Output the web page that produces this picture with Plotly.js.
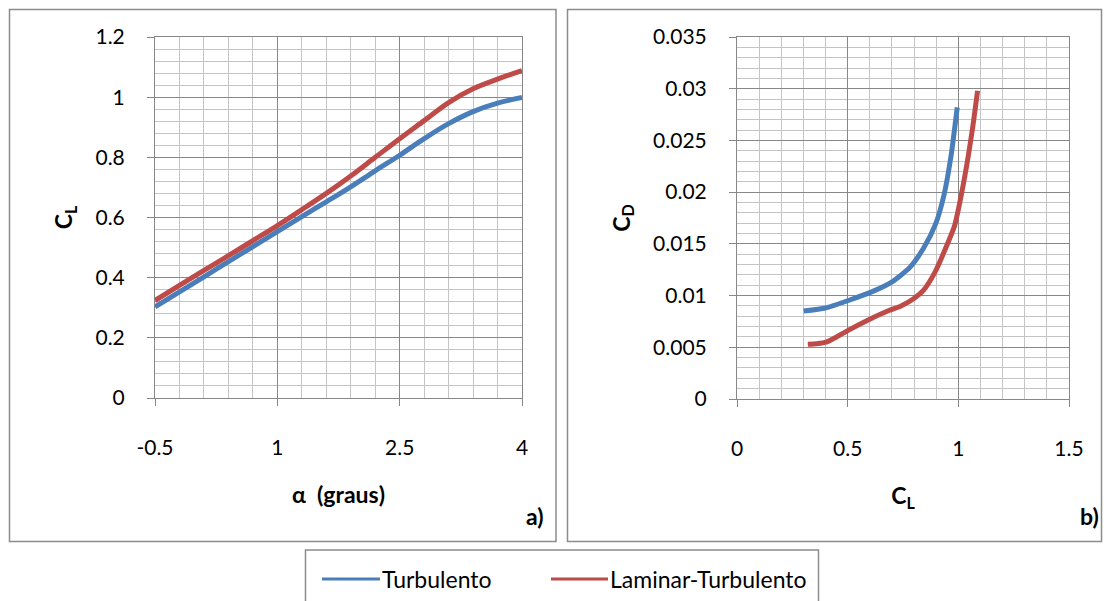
<!DOCTYPE html>
<html>
<head>
<meta charset="utf-8">
<script src="https://cdn.plot.ly/plotly-3.0.1.min.js"></script>
<style>html,body{margin:0;padding:0;background:#fff}#chart{width:1104px;height:601px}</style>
</head>
<body>
<div id="chart"></div>
<script>
// ---- Data ----
// Panel a) CL vs alpha
const alpha = [-0.5, -0.2, 0.1, 0.4, 0.7, 1.0, 1.3, 1.6, 1.9, 2.2, 2.5, 2.8, 3.1, 3.4, 3.7, 4.0];
const clTurb = [0.303, 0.353, 0.403, 0.453, 0.503, 0.553, 0.603, 0.652, 0.702, 0.755, 0.807, 0.862, 0.912, 0.952, 0.980, 0.999];
const clLam  = [0.324, 0.374, 0.424, 0.473, 0.523, 0.573, 0.626, 0.680, 0.738, 0.800, 0.862, 0.922, 0.982, 1.028, 1.060, 1.088];
// Panel b) CD vs CL
const polarTurbCL = [0.301, 0.40, 0.50, 0.624, 0.702, 0.78, 0.842, 0.897, 0.936, 0.967, 0.995];
const polarTurbCD = [0.0085, 0.0088, 0.0095, 0.0105, 0.01135, 0.0127, 0.01455, 0.0169, 0.0198, 0.0235, 0.0282];
const polarLamCL = [0.32, 0.36, 0.406, 0.45, 0.502, 0.593, 0.686, 0.741, 0.796, 0.842, 0.897, 0.952, 0.983, 1.014, 1.045, 1.069, 1.087];
const polarLamCD = [0.0053, 0.00535, 0.00553, 0.0060, 0.00664, 0.00765, 0.00856, 0.0090, 0.00967, 0.0105, 0.01237, 0.01506, 0.01675, 0.0198, 0.0235, 0.0269, 0.0298];
// Tick labels
const xTickValsA = [-0.5, 1, 2.5, 4];
const xTickTextA = ["-0.5", "1", "2.5", "4"];
const seriesNames = ["Turbulento", "Laminar-Turbulento"];
const colors = ["#4A7EBB", "#BE4B48"];

// ---- Layout helpers (pixel -> paper) ----
const W = 1104, H = 601;
const px = x => x / W;
const py = y => 1 - y / H;
const FONT = "Lato, 'Open Sans', sans-serif";

const traces = [
  {x: alpha, y: clTurb, xaxis: 'x', yaxis: 'y', mode: 'lines', name: seriesNames[0],
   line: {color: colors[0], width: 5, shape: 'spline', smoothing: 1}, showlegend: false},
  {x: alpha, y: clLam, xaxis: 'x', yaxis: 'y', mode: 'lines', name: seriesNames[1],
   line: {color: colors[1], width: 5, shape: 'spline', smoothing: 1}, showlegend: false},
  {x: polarTurbCL, y: polarTurbCD, xaxis: 'x2', yaxis: 'y2', mode: 'lines', name: seriesNames[0],
   line: {color: colors[0], width: 5, shape: 'spline', smoothing: 0.6}, showlegend: false},
  {x: polarLamCL, y: polarLamCD, xaxis: 'x2', yaxis: 'y2', mode: 'lines', name: seriesNames[1],
   line: {color: colors[1], width: 5, shape: 'spline', smoothing: 0.6}, showlegend: false}
];

const majorGrid = '#878787', minorGrid = '#c4c4c4';
const common = {
  showline: true, linecolor: majorGrid, linewidth: 1, mirror: true,
  showgrid: true, gridcolor: majorGrid, gridwidth: 1, zeroline: false,
  ticks: 'outside', ticklen: 7, tickcolor: majorGrid, tickwidth: 1,
  tickfont: {family: FONT, size: 21, color: '#000'}
};
const titleFont = {family: FONT, size: 23, color: '#000'};

const layout = {
  width: W, height: H,
  margin: {l: 0, r: 0, t: 0, b: 0},
  paper_bgcolor: '#fff', plot_bgcolor: '#fff',
  font: {family: FONT, color: '#000'},
  xaxis: Object.assign({}, common, {
    domain: [px(155), px(522)], anchor: 'y', range: [-0.5, 4],
    tickmode: 'array', tickvals: xTickValsA, ticktext: xTickTextA,
    ticklabelstandoff: 24,
    minor: {tick0: -0.5, dtick: 0.3, showgrid: true, gridcolor: minorGrid, gridwidth: 1, ticks: ''},
    title: {text: '<b>α  (graus)</b>', font: titleFont, standoff: 28}
  }),
  yaxis: Object.assign({}, common, {
    domain: [py(398), py(37)], anchor: 'x', range: [0, 1.2], dtick: 0.2, tick0: 0,
    ticklabelstandoff: 18,
    minor: {tick0: 0, dtick: 0.04, showgrid: true, gridcolor: minorGrid, gridwidth: 1, ticks: ''},
    title: {text: '<b>C<sub>L</sub></b>', font: titleFont, standoff: 16}
  }),
  xaxis2: Object.assign({}, common, {
    domain: [px(737), px(1069)], anchor: 'y2', range: [0, 1.5], dtick: 0.5, tick0: 0,
    ticklabelstandoff: 24,
    minor: {tick0: 0, dtick: 0.1, showgrid: true, gridcolor: minorGrid, gridwidth: 1, ticks: ''},
    title: {text: '<b>C<sub>L</sub></b>', font: titleFont, standoff: 28}
  }),
  yaxis2: Object.assign({}, common, {
    domain: [py(399), py(37)], anchor: 'x2', range: [0, 0.035], dtick: 0.005, tick0: 0,
    ticklabelstandoff: 18,
    minor: {tick0: 0, dtick: 0.001, showgrid: true, gridcolor: minorGrid, gridwidth: 1, ticks: ''},
    title: {text: '<b>C<sub>D</sub></b>', font: titleFont, standoff: 16}
  }),
  shapes: [
    {type: 'rect', xref: 'paper', yref: 'paper', x0: px(9.5), x1: px(556), y0: py(541.5), y1: py(9.5),
     line: {color: '#8c8c8c', width: 1.5}},
    {type: 'rect', xref: 'paper', yref: 'paper', x0: px(567.5), x1: px(1101.5), y0: py(541.5), y1: py(9.5),
     line: {color: '#8c8c8c', width: 1.5}},
    {type: 'rect', xref: 'paper', yref: 'paper', x0: px(305.5), x1: px(818.5), y0: py(620), y1: py(550),
     line: {color: '#8c8c8c', width: 1.5}},
    {type: 'line', xref: 'paper', yref: 'paper', x0: px(322), x1: px(380), y0: py(579), y1: py(579),
     line: {color: colors[0], width: 3}},
    {type: 'line', xref: 'paper', yref: 'paper', x0: px(551), x1: px(608), y0: py(579), y1: py(579),
     line: {color: colors[1], width: 3}}
  ],
  annotations: [
    {xref: 'paper', yref: 'paper', x: px(380), y: py(579), xanchor: 'left', yanchor: 'middle',
     text: seriesNames[0], showarrow: false, font: {family: FONT, size: 23, color: '#000'}},
    {xref: 'paper', yref: 'paper', x: px(608), y: py(579), xanchor: 'left', yanchor: 'middle',
     text: seriesNames[1], showarrow: false, font: {family: FONT, size: 23, color: '#000'}},
    {xref: 'paper', yref: 'paper', x: px(546), y: py(516), xanchor: 'right', yanchor: 'middle',
     text: '<b>a)</b>', showarrow: false, font: {family: FONT, size: 23, color: '#000'}},
    {xref: 'paper', yref: 'paper', x: px(1101), y: py(516), xanchor: 'right', yanchor: 'middle',
     text: '<b>b)</b>', showarrow: false, font: {family: FONT, size: 23, color: '#000'}}
  ]
};

Plotly.newPlot('chart', traces, layout, {staticPlot: true, displayModeBar: false});
</script>
</body>
</html>
